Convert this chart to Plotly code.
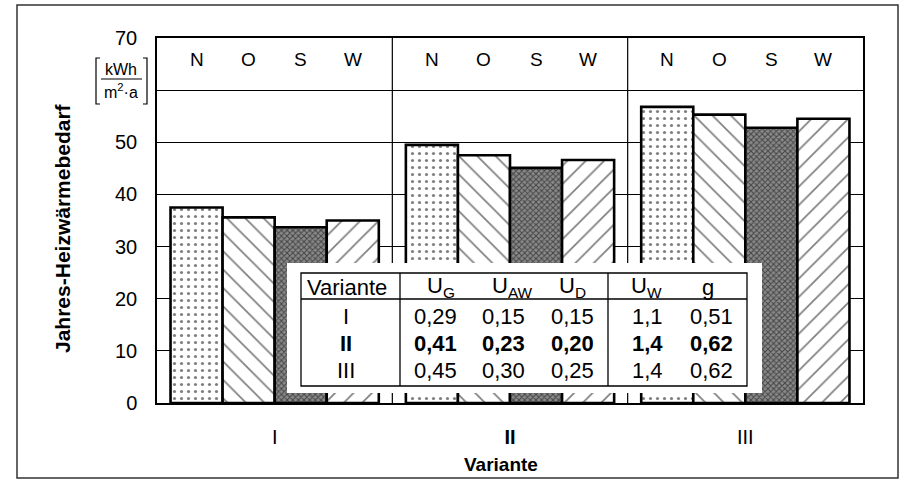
import plotly.graph_objects as go

# ---------------- data ----------------
categories = ["I", "II", "III"]
tick_labels = ["I", "<b>II</b>", "III"]
orientations = ["N", "O", "S", "W"]
values_N = [37.5, 49.5, 56.8]
values_O = [35.6, 47.5, 55.3]
values_S = [33.7, 45.1, 52.8]
values_W = [35.0, 46.6, 54.5]
y_ticks = [0, 10, 20, 30, 40, 50, 60, 70]
y_tick_labels = ["0", "10", "20", "30", "40", "50", "", "70"]

table_header = ["Variante", "U<sub>G</sub>", "U<sub>AW</sub>", "U<sub>D</sub>", "U<sub>W</sub>", "g"]
table_variants = ["I", "II", "III"]
U_G = ["0,29", "0,41", "0,45"]
U_AW = ["0,15", "0,23", "0,30"]
U_D = ["0,15", "0,20", "0,25"]
U_W = ["1,1", "1,4", "1,4"]
g_val = ["0,51", "0,62", "0,62"]
bold_row = 1

# ---------------- layout helpers ----------------
W_FIG, H_FIG = 905, 486
L, R, T, B = 157, 863, 38, 403
FONT = "Liberation Sans, Arial, sans-serif"


def xp(px):
    return (px - L) / (R - L)


def yp(py):
    return (B - py) / (B - T)


def ann(px, py, text, size, **kw):
    d = dict(x=xp(px), y=yp(py), xref="paper", yref="paper", text=text,
             showarrow=False, xanchor="center", yanchor="middle",
             font=dict(family=FONT, size=size, color="black"))
    d.update(kw)
    return d


bargap = 0.115
bar_w = (1 - bargap) / 4

patterns = [
    dict(shape=".", fgcolor="black", bgcolor="white", size=7, solidity=0.16),
    dict(shape="\\", fgcolor="black", bgcolor="white", size=13, solidity=0.13),
    dict(shape="x", fgcolor="black", bgcolor="#8a8a8a", size=4, solidity=0.45),
    dict(shape="/", fgcolor="black", bgcolor="white", size=13, solidity=0.13),
]
series = [values_N, values_O, values_S, values_W]

fig = go.Figure()
xs = list(range(len(categories)))
for name, vals, pat in zip(orientations, series, patterns):
    fig.add_trace(go.Bar(
        x=xs, y=vals, name=name,
        marker=dict(color="white", pattern=pat, line=dict(color="black", width=2.6)),
        showlegend=False,
    ))

shapes = []
annotations = []

# group separators
for s in [0.5, 1.5]:
    shapes.append(dict(type="line", xref="x", yref="y", x0=s, x1=s, y0=0, y1=70,
                       line=dict(color="black", width=1.2), layer="below"))

# N O S W header labels
for i in xs:
    for j, o in enumerate(orientations):
        annotations.append(dict(x=i + (j - 1.5) * bar_w, y=65.8, xref="x", yref="y",
                                text=o, showarrow=False, xanchor="center", yanchor="middle",
                                font=dict(family=FONT, size=19, color="black")))

# outer frame
shapes.append(dict(type="rect", xref="paper", yref="paper",
                   x0=xp(17), x1=xp(898), y0=yp(5), y1=yp(478),
                   line=dict(color="#333", width=1.5), layer="above"))

# y-axis title
annotations.append(ann(62, 228, "<b>Jahres-Heizwärmebedarf</b>", 21, textangle=-90))
# unit
annotations.append(ann(121, 69, "kWh", 16))
annotations.append(ann(121, 91, "m<sup>2</sup>·a", 16))
shapes.append(dict(type="line", xref="paper", yref="paper", x0=xp(101), x1=xp(142),
                   y0=yp(79), y1=yp(79), line=dict(color="black", width=1.2)))
for bx, d in [(96, 1), (147, -1)]:
    shapes.append(dict(type="path", xref="paper", yref="paper",
                       path=f"M {xp(bx + 4*d)} {yp(58)} L {xp(bx)} {yp(58)} L {xp(bx)} {yp(104)} L {xp(bx + 4*d)} {yp(104)}",
                       line=dict(color="black", width=1.2)))

# x-axis title
annotations.append(ann(501, 464, "<b>Variante</b>", 19))

# table
shapes.append(dict(type="rect", xref="paper", yref="paper", x0=xp(287), x1=xp(762),
                   y0=yp(263), y1=yp(393), fillcolor="white", line=dict(width=0), layer="above"))
shapes.append(dict(type="rect", xref="paper", yref="paper", x0=xp(301), x1=xp(747),
                   y0=yp(273), y1=yp(386), line=dict(color="black", width=1.3), layer="above"))
shapes.append(dict(type="line", xref="paper", yref="paper", x0=xp(301), x1=xp(747),
                   y0=yp(299), y1=yp(299), line=dict(color="black", width=1.3), layer="above"))
for cx in [400, 608]:
    shapes.append(dict(type="line", xref="paper", yref="paper", x0=xp(cx), x1=xp(cx),
                       y0=yp(273), y1=yp(386), line=dict(color="black", width=1.3), layer="above"))

head_x = [347, 441, 512, 572, 646, 708]
col_x = [346, 435, 503, 572, 647, 711]
row_y = [316, 343, 370]
for hx, h in zip(head_x, table_header):
    annotations.append(ann(hx, 287, h, 22))
columns = [table_variants, U_G, U_AW, U_D, U_W, g_val]
for c, (cx, col) in enumerate(zip(col_x, columns)):
    for r, (ry, v) in enumerate(zip(row_y, col)):
        txt = f"<b>{v}</b>" if r == bold_row else v
        annotations.append(ann(cx, ry, txt, 22))

fig.update_layout(
    width=W_FIG, height=H_FIG,
    margin=dict(l=L, r=W_FIG - R, t=T, b=H_FIG - B, pad=0),
    paper_bgcolor="white", plot_bgcolor="white",
    barmode="group", bargap=bargap, bargroupgap=0,
    shapes=shapes, annotations=annotations,
    font=dict(family=FONT, color="black"),
    xaxis=dict(range=[-0.5, 2.5], tickvals=xs, ticktext=tick_labels, showgrid=False,
               showline=True, linecolor="black", linewidth=2, mirror=True,
               ticks="", ticklabelstandoff=15, tickfont=dict(family=FONT, size=20),
               zeroline=False),
    yaxis=dict(range=[0, 70], tickvals=y_ticks, ticktext=y_tick_labels, showgrid=True,
               gridcolor="black", gridwidth=1, showline=True, linecolor="black",
               linewidth=1.5, mirror=True, ticks="", ticklabelstandoff=14,
               tickfont=dict(family=FONT, size=20), zeroline=False),
)

fig.write_html("out.html")
